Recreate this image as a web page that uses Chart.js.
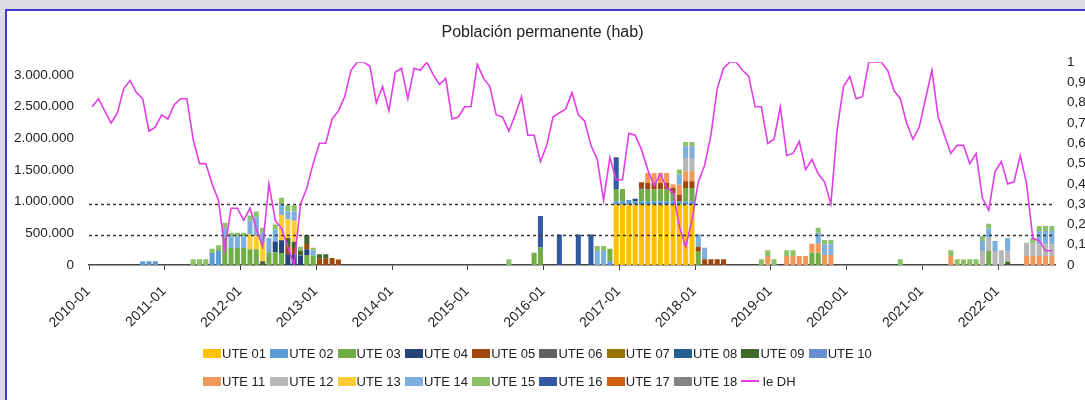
<!DOCTYPE html>
<html lang="es">
<head>
<meta charset="UTF-8">
<meta name="viewport" content="width=device-width, initial-scale=1.0">
<script src="https://cdn.jsdelivr.net/npm/chart.js"></script>
<title>Población permanente</title>
<style>
    html, body { margin: 0; padding: 0; }
    body {
        width: 1085px; height: 400px; overflow: hidden; position: relative;
        background: #dcdce0;
        font-family: "Liberation Sans", Arial, sans-serif;
    }
    .panel {
        position: absolute; left: 5px; top: 9px; right: 0; bottom: 0;
        background: #fff;
        border-left: 2px solid #3b3bd1; border-top: 2px solid #3b3bd1;
    }
    .grafico { position: absolute; left: 0; top: 0; width: 1085px; height: 400px; }
    #leyenda {
        position: absolute; left: 203px; top: 339px; width: 674px;
        display: flex; flex-wrap: wrap;
    }
    .item {
        width: 67.3px; height: 28px; display: flex; align-items: center;
        font-size: 13px; color: #222; white-space: nowrap;
    }
    .caja { width: 18px; height: 9px; margin-right: 1px; flex: none; }
    .linea { width: 18px; height: 2px; margin-right: 3px; flex: none; }
</style>
</head>
<body>
<div class="panel"></div>
<div class="grafico"><canvas id="myChart"></canvas></div>
<div id="leyenda"></div>

<script>
    // meses 2010-01 .. 2022-09
    const meses = [];
    for (let a = 2010; a <= 2022; a++) {
        for (let m = 1; m <= 12; m++) {
            if (a === 2022 && m > 9) break;
            meses.push(a + '-' + String(m).padStart(2, '0'));
        }
    }

    // marcas de los ejes
    const ticksIzq = [0, 500000, 1000000, 1500000, 2000000, 2500000, 3000000];
    const ticksDer = [0, 0.1, 0.2, 0.3, 0.4, 0.5, 0.6, 0.7, 0.8, 0.9, 1];

    // indice de sequia (eje derecho)
    const ieDH = [
        0.78, 0.82, 0.76, 0.70, 0.75, 0.87, 0.91, 0.85, 0.82, 0.66, 0.68, 0.74,
        0.72, 0.79, 0.82, 0.82, 0.62, 0.50, 0.50, 0.40, 0.32, 0.08, 0.28, 0.28,
        0.22, 0.28, 0.18, 0.09, 0.40, 0.22, 0.18, 0.09, 0.00, 0.30, 0.38, 0.50,
        0.60, 0.60, 0.72, 0.76, 0.83, 0.96, 1.00, 1.00, 0.98, 0.80, 0.88, 0.76,
        0.95, 0.97, 0.82, 0.97, 0.96, 1.00, 0.94, 0.89, 0.92, 0.72, 0.73, 0.78,
        0.78, 0.99, 0.92, 0.88, 0.74, 0.73, 0.66, 0.74, 0.83, 0.64, 0.64, 0.51,
        0.59, 0.73, 0.75, 0.77, 0.85, 0.74, 0.71, 0.59, 0.52, 0.32, 0.53, 0.42,
        0.42, 0.65, 0.64, 0.57, 0.47, 0.39, 0.45, 0.38, 0.36, 0.19, 0.09, 0.22,
        0.41, 0.49, 0.64, 0.87, 0.97, 1.00, 1.00, 0.96, 0.93, 0.78, 0.78, 0.60,
        0.62, 0.78, 0.54, 0.55, 0.61, 0.47, 0.52, 0.45, 0.41, 0.30, 0.67, 0.88,
        0.93, 0.82, 0.83, 1.00, 1.00, 1.00, 0.96, 0.86, 0.82, 0.70, 0.62, 0.68,
        0.82, 0.96, 0.73, 0.64, 0.55, 0.59, 0.59, 0.50, 0.55, 0.33, 0.27, 0.46,
        0.51, 0.40, 0.41, 0.54, 0.40, 0.13, 0.12, 0.07, 0.07
    ];

    // umbrales del indice (lineas discontinuas)
    const umbralesIe = [0.3, 0.15];

    // poblacion por UTE: [mes, habitantes]
    const ute01 = [['2016-12', 950000], ['2017-01', 950000], ['2017-02', 950000], ['2017-03', 950000],
        ['2017-04', 950000], ['2017-05', 950000], ['2017-06', 950000], ['2017-07', 950000],
        ['2017-08', 950000], ['2017-09', 950000], ['2017-10', 950000], ['2017-11', 950000], ['2017-12', 950000]];
    const ute02 = [['2010-09', 60000], ['2010-10', 60000], ['2010-11', 60000], ['2011-08', 190000],
        ['2011-09', 220000], ['2016-11', 60000], ['2016-12', 55000], ['2017-01', 55000], ['2017-02', 75000],
        ['2017-03', 55000], ['2017-04', 55000], ['2017-05', 55000], ['2017-06', 55000], ['2017-07', 55000],
        ['2017-08', 55000], ['2017-09', 55000], ['2017-10', 55000], ['2017-11', 55000], ['2017-12', 55000]];
    const ute03 = [['2011-10', 430000], ['2011-11', 270000], ['2011-12', 270000], ['2012-01', 270000],
        ['2012-02', 250000], ['2012-03', 250000], ['2012-05', 200000], ['2012-06', 200000], ['2012-07', 190000],
        ['2012-11', 150000], ['2012-12', 150000], ['2015-11', 195000], ['2015-12', 275000], ['2016-11', 197000],
        ['2016-12', 195000], ['2017-01', 195000], ['2017-04', 185000], ['2017-05', 185000], ['2017-06', 185000],
        ['2017-07', 185000], ['2017-08', 185000], ['2017-09', 120000], ['2017-11', 210000], ['2017-12', 210000],
        ['2018-01', 210000], ['2019-07', 195000], ['2019-08', 195000], ['2021-11', 220000]];
    const ute04 = [['2012-06', 170000], ['2012-07', 200000], ['2012-08', 168000], ['2012-09', 168000],
        ['2012-10', 150000], ['2012-11', 100000], ['2017-03', 40000], ['2017-04', 15000]];
    const ute05 = [['2012-08', 130000], ['2012-09', 100000], ['2012-11', 80000], ['2013-01', 100000],
        ['2013-02', 100000], ['2013-03', 110000], ['2013-04', 85000], ['2017-04', 100000], ['2017-05', 105000],
        ['2017-06', 105000], ['2017-07', 105000], ['2017-08', 105000], ['2017-09', 90000], ['2017-10', 105000],
        ['2017-11', 105000], ['2017-12', 105000], ['2018-01', 75000], ['2018-02', 90000], ['2018-03', 90000],
        ['2018-04', 90000], ['2018-05', 90000]];
    const ute06 = [];
    const ute07 = [];
    const ute08 = [];
    const ute09 = [['2012-04', 60000], ['2012-08', 130000], ['2012-09', 100000], ['2012-10', 80000],
        ['2012-11', 143000], ['2013-01', 68000], ['2013-02', 68000], ['2022-02', 50000]];
    const ute10 = [];
    const ute11 = [['2017-05', 158000], ['2017-06', 158000], ['2017-07', 158000], ['2017-08', 158000],
        ['2017-09', 60000], ['2017-10', 158000], ['2017-11', 158000], ['2017-12', 158000], ['2018-12', 142000],
        ['2019-03', 142000], ['2019-04', 142000], ['2019-05', 142000], ['2019-06', 142000], ['2019-07', 142000],
        ['2019-08', 142000], ['2019-09', 158000], ['2019-10', 158000], ['2021-05', 142000], ['2022-05', 142000],
        ['2022-06', 142000], ['2022-07', 142000], ['2022-08', 142000], ['2022-09', 142000]];
    const ute12 = [['2017-11', 210000], ['2017-12', 210000], ['2021-10', 220000], ['2021-11', 210000],
        ['2021-12', 220000], ['2022-01', 231000], ['2022-02', 168000], ['2022-05', 210000], ['2022-06', 200000],
        ['2022-07', 184000], ['2022-08', 184000], ['2022-09', 184000]];
    const ute13 = [['2012-02', 230000], ['2012-03', 210000], ['2012-04', 300000], ['2012-07', 400000],
        ['2012-08', 289000], ['2012-09', 330000]];
    const ute14 = [['2011-10', 150000], ['2011-11', 185000], ['2011-12', 185000], ['2012-01', 185000],
        ['2012-02', 220000], ['2012-03', 290000], ['2012-04', 150000], ['2012-05', 230000], ['2012-06', 190000],
        ['2012-07', 170000], ['2012-08', 131000], ['2012-09', 150000], ['2012-12', 80000], ['2016-09', 220000],
        ['2016-10', 220000], ['2017-10', 158000], ['2017-11', 184000], ['2017-12', 184000], ['2018-01', 200000],
        ['2018-02', 184000], ['2019-08', 173000], ['2019-09', 168000], ['2019-10', 168000], ['2021-10', 158000],
        ['2021-11', 147000], ['2021-12', 158000], ['2022-02', 210000], ['2022-07', 210000], ['2022-08', 210000],
        ['2022-09', 210000]];
    const ute15 = [['2011-05', 89000], ['2011-06', 89000], ['2011-07', 89000], ['2011-08', 67000],
        ['2011-09', 90000], ['2011-10', 87000], ['2011-11', 55000], ['2011-12', 55000], ['2012-01', 55000],
        ['2012-02', 83000], ['2012-03', 96000], ['2012-04', 78000], ['2012-06', 80000], ['2012-07', 100000],
        ['2012-08', 95000], ['2012-09', 92000], ['2012-10', 59000], ['2012-12', 43000], ['2015-07', 89000],
        ['2016-09', 80000], ['2016-10', 80000], ['2017-10', 79000], ['2017-11', 68000], ['2017-12', 68000],
        ['2018-11', 89000], ['2018-12', 89000], ['2019-01', 89000], ['2019-03', 89000], ['2019-04', 89000],
        ['2019-08', 79000], ['2019-09', 68000], ['2019-10', 68000], ['2020-09', 89000], ['2021-05', 89000],
        ['2021-06', 89000], ['2021-07', 89000], ['2021-08', 89000], ['2021-09', 89000], ['2021-10', 79000],
        ['2021-11', 74000], ['2022-06', 89000], ['2022-07', 79000], ['2022-08', 79000], ['2022-09', 79000]];
    const ute16 = [['2015-12', 500000], ['2016-03', 483000], ['2016-06', 483000], ['2016-08', 483000],
        ['2016-12', 499000]];
    const ute17 = [];
    const ute18 = [];

    const nombresUte = ['UTE 01', 'UTE 02', 'UTE 03', 'UTE 04', 'UTE 05', 'UTE 06', 'UTE 07', 'UTE 08', 'UTE 09',
        'UTE 10', 'UTE 11', 'UTE 12', 'UTE 13', 'UTE 14', 'UTE 15', 'UTE 16', 'UTE 17', 'UTE 18'];
    const coloresUte = ['#ffc000', '#5b9bd5', '#70ad47', '#264478', '#9e480e', '#636363', '#997300', '#255e91',
        '#43682b', '#698ed0', '#f1975a', '#b7b7b7', '#ffcd33', '#7cafdd', '#8cc168', '#335aa1', '#d26012', '#848484'];
    const colorIe = '#e23de6';

    const utes = [ute01, ute02, ute03, ute04, ute05, ute06, ute07, ute08, ute09,
        ute10, ute11, ute12, ute13, ute14, ute15, ute16, ute17, ute18];

    // pasa los pares [mes, valor] a un array por mes
    function serie(pares) {
        const datos = meses.map(() => null);
        pares.forEach(function (p) { datos[meses.indexOf(p[0])] = p[1]; });
        return datos;
    }

    function miles(v) {
        return String(Math.round(v)).replace(/\B(?=(\d{3})+(?!\d))/g, '.');
    }

    const datasets = utes.map(function (pares, k) {
        return {
            type: 'bar',
            label: nombresUte[k],
            data: serie(pares),
            backgroundColor: coloresUte[k],
            yAxisID: 'y',
            order: 1,
            barPercentage: 0.8,
            categoryPercentage: 1
        };
    });
    datasets.push({
        type: 'line',
        label: 'Ie DH',
        data: ieDH,
        yAxisID: 'y1',
        borderColor: colorIe,
        backgroundColor: colorIe,
        borderWidth: 1.6,
        pointRadius: 0,
        tension: 0,
        order: 0
    });

    // lineas discontinuas de umbral, entre las barras y la linea
    const lineasUmbral = {
        id: 'lineasUmbral',
        afterDatasetDraw(chart, args) {
            if (args.index !== 0) return;
            const { ctx, chartArea, scales } = chart;
            ctx.save();
            ctx.strokeStyle = '#333';
            ctx.lineWidth = 1.3;
            ctx.setLineDash([3, 3]);
            umbralesIe.forEach(function (u) {
                const y = Math.round(scales.y1.getPixelForValue(u)) + 0.5;
                ctx.beginPath();
                ctx.moveTo(chartArea.left, y);
                ctx.lineTo(chartArea.right, y);
                ctx.stroke();
            });
            ctx.restore();
        }
    };

    Chart.defaults.font.family = '"Liberation Sans", Arial, sans-serif';
    Chart.defaults.color = '#222';

    const myChart = new Chart(document.getElementById('myChart'), {
        type: 'bar',
        data: { labels: meses, datasets: datasets },
        options: {
            responsive: true,
            maintainAspectRatio: false,
            animation: false,
            layout: { padding: { top: 10, bottom: 60, left: 0, right: 0 } },
            plugins: {
                legend: { display: false },
                tooltip: { enabled: false },
                title: {
                    display: true,
                    text: 'Población permanente (hab)',
                    color: '#222',
                    font: { size: 16, weight: 'normal' },
                    padding: { top: 13, bottom: 20 }
                }
            },
            scales: {
                x: {
                    stacked: true,
                    offset: true,
                    grid: {
                        offset: true,
                        drawOnChartArea: false,
                        drawTicks: true,
                        tickLength: 5,
                        color: function (c) { return c.index % 12 === 0 ? '#444' : 'rgba(0,0,0,0)'; }
                    },
                    border: { display: true, color: '#444', width: 1.5 },
                    ticks: {
                        autoSkip: false,
                        minRotation: 45,
                        maxRotation: 45,
                        padding: 13,
                        labelOffset: -4,
                        font: { size: 14 },
                        callback: function (v, i) { return i % 12 === 0 ? this.getLabelForValue(v) : ''; }
                    },
                    afterFit: function (s) { s.height = 75; }
                },
                y: {
                    stacked: true,
                    position: 'left',
                    min: 0,
                    max: 3200000,
                    grid: { display: false, drawTicks: false },
                    border: { display: false },
                    ticks: {
                        padding: 15,
                        font: { size: 13.5 },
                        callback: function (v) { return miles(v); }
                    },
                    afterBuildTicks: function (s) { s.ticks = ticksIzq.map(v => ({ value: v })); },
                    afterFit: function (s) { s.width = 89; }
                },
                y1: {
                    position: 'right',
                    min: 0,
                    max: 1,
                    grid: { display: false, drawTicks: false },
                    border: { display: false },
                    ticks: {
                        padding: 12,
                        font: { size: 13.5 },
                        callback: function (v) { return String(v).replace('.', ','); }
                    },
                    afterBuildTicks: function (s) { s.ticks = ticksDer.map(v => ({ value: v })); },
                    afterFit: function (s) { s.width = 30; }
                }
            }
        },
        plugins: [lineasUmbral]
    });

    // leyenda en html, dos filas como el original
    const leyenda = document.getElementById('leyenda');
    myChart.data.datasets.forEach(function (ds) {
        const item = document.createElement('div');
        item.className = 'item';
        const marca = document.createElement('span');
        marca.className = ds.type === 'line' ? 'linea' : 'caja';
        marca.style.background = ds.type === 'line' ? ds.borderColor : ds.backgroundColor;
        item.appendChild(marca);
        item.appendChild(document.createTextNode(ds.label));
        leyenda.appendChild(item);
    });
</script>
</body>
</html>
